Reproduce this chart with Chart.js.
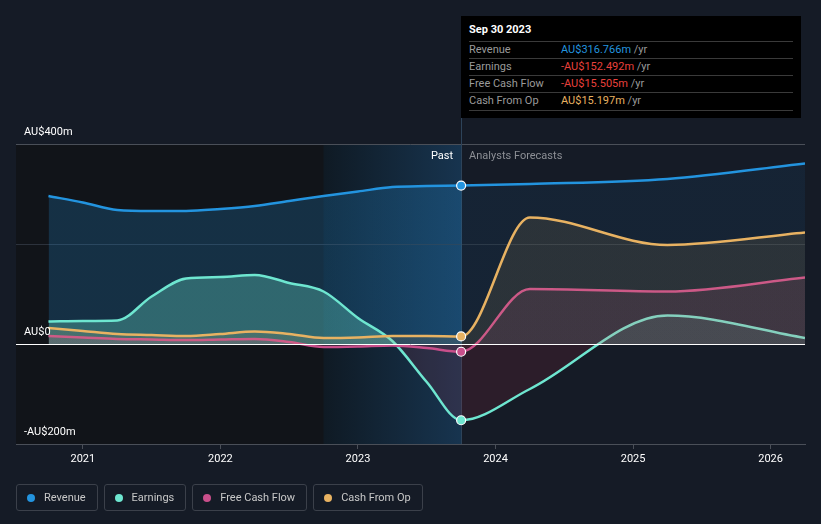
<!DOCTYPE html>
<html>
<head>
<meta charset="utf-8">
<script src="https://cdn.jsdelivr.net/npm/chart.js@4"></script>
<style>
  html, body { margin: 0; padding: 0; background: #151b26; }
  body { width: 821px; height: 524px; position: relative; overflow: hidden; font-family: Roboto, "Noto Sans", sans-serif; }
  #wrap { position: absolute; left: 0; top: 0; width: 821px; height: 524px; }
  #tip { position: absolute; left: 461px; top: 16px; width: 340px; height: 102px; background: #000; font-size: 11px; }
  #tip .title { position: absolute; left: 8px; top: 7px; color: #fff; font-weight: bold; font-size: 11px; }
  #tip .row { position: absolute; left: 8px; width: 324px; height: 17px; border-top: 1px solid #3a3a3a; line-height: 16px; }
  #tip .row .lab { position: absolute; left: 0; color: #9a9a9a; }
  #tip .row .val { position: absolute; left: 92px; }
  #tip .row .val span { color: #9a9a9a; }
  #legend { position: absolute; left: 16px; top: 484px; display: flex; gap: 6px; }
  .item { border: 1px solid #3b404a; border-radius: 3px; display: flex; align-items: center; padding: 0 11px 0 10px; color: #c8c8c8; font-size: 11px; box-sizing: border-box; height: 27px; }
  .item i { width: 8px; height: 8px; border-radius: 50%; display: inline-block; margin-right: 9px; }
</style>
</head>
<body>
<div id="wrap"><canvas id="c" width="821" height="524"></canvas></div>
<div id="tip">
  <div class="title">Sep 30 2023</div>
  <div class="row" style="top:25px"><span class="lab">Revenue</span><span class="val" style="color:#2394df">AU$316.766m <span>/yr</span></span></div>
  <div class="row" style="top:42px"><span class="lab">Earnings</span><span class="val" style="color:#e8413c">-AU$152.492m <span>/yr</span></span></div>
  <div class="row" style="top:59px"><span class="lab">Free Cash Flow</span><span class="val" style="color:#e8413c">-AU$15.505m <span>/yr</span></span></div>
  <div class="row" style="top:76px; border-bottom:1px solid #3a3a3a"><span class="lab">Cash From Op</span><span class="val" style="color:#e8b262">AU$15.197m <span>/yr</span></span></div>
</div>
<div id="legend"></div>
<script>
const periods = [2020.75, 2021.0, 2021.25, 2021.5, 2021.75, 2022.0, 2022.25, 2022.5, 2022.75, 2023.0, 2023.25, 2023.5, 2023.75, 2024.25, 2025.25, 2026.25];
const revenue = [296, 283, 268, 266, 266, 270, 276, 286, 296, 305, 314, 316, 316.8, 320, 330, 361];
const earnings = [45, 46, 47, 95, 131, 134, 138, 122, 105, 52, 6, -76, -152.5, -90, 57, 12];
const freeCashFlow = [16, 13, 10, 9, 8, 9, 10, 4, -6, -5, -3, -8, -15.5, 110, 105, 133];
const cashFromOp = [32, 26, 20, 18, 16, 20, 25, 20, 12, 13, 16, 16, 15.2, 253, 198, 223];
const yearTicks = [2021, 2022, 2023, 2024, 2025, 2026];
const yLabels = [[400, "AU$400m"], [0, "AU$0"], [-200, "-AU$200m"]];
const seriesNames = ["Revenue", "Earnings", "Free Cash Flow", "Cash From Op"];
const seriesColors = ["#2394df", "#6ee6d0", "#c94f8b", "#e8b262"];
const pastEnd = 2023.75;
const bandStart = 2022.75;

const legend = document.getElementById("legend");
seriesNames.forEach((n, i) => {
  const d = document.createElement("div");
  d.className = "item";
  d.innerHTML = `<i style="background:${seriesColors[i]}"></i>${n}`;
  legend.appendChild(d);
});

function rgba(hex, a) {
  const n = parseInt(hex.slice(1), 16);
  return `rgba(${n >> 16},${(n >> 8) & 255},${n & 255},${a})`;
}

// fill that is stronger in the past and fainter in the forecast
function splitFill(color, pastA, futA) {
  return (ctx) => {
    const chart = ctx.chart;
    const area = chart.chartArea;
    if (!area) return rgba(color, futA);
    const xs = chart.scales.x;
    const px = xs.getPixelForValue(pastEnd);
    const g = chart.ctx.createLinearGradient(area.left, 0, area.right, 0);
    const t = Math.min(1, Math.max(0, (px - area.left) / (area.right - area.left)));
    g.addColorStop(0, rgba(color, pastA));
    g.addColorStop(t, rgba(color, pastA));
    g.addColorStop(Math.min(1, t + 0.001), rgba(color, futA));
    g.addColorStop(1, rgba(color, futA));
    return g;
  };
}

const markIdx = periods.indexOf(pastEnd);
function makeSet(label, data, color, fill, order) {
  return {
    label,
    order,
    data: periods.map((p, i) => ({ x: p, y: data[i] })),
    borderColor: color,
    borderWidth: 2.5,
    cubicInterpolationMode: "monotone",
    fill,
    pointRadius: 0,
    pointHoverRadius: 0,
  };
}

const backdrop = {
  id: "backdrop",
  beforeDatasetsDraw(chart) {
    const { ctx, chartArea: a, scales } = chart;
    const xp = scales.x.getPixelForValue(pastEnd);
    const xb = scales.x.getPixelForValue(bandStart);
    ctx.save();
    ctx.fillStyle = "#111419";
    ctx.fillRect(a.left, a.top, xp - a.left, a.bottom - a.top);
    const g = ctx.createLinearGradient(xb, 0, xp, 0);
    g.addColorStop(0, "#0f1a24");
    g.addColorStop(1, "#17344f");
    ctx.fillStyle = g;
    ctx.fillRect(xb, a.top, xp - xb, a.bottom - a.top);
    // grid lines
    [400, 200].forEach((v) => {
      const y = Math.round(scales.y.getPixelForValue(v)) + 0.5;
      ctx.strokeStyle = v === 400 ? "#4a4f58" : "#2c323c";
      ctx.lineWidth = 1;
      ctx.beginPath(); ctx.moveTo(a.left, y); ctx.lineTo(a.right, y); ctx.stroke();
    });
    ctx.strokeStyle = "#2d4359";
    ctx.beginPath(); ctx.moveTo(Math.round(xp) + 0.5, 118); ctx.lineTo(Math.round(xp) + 0.5, a.bottom); ctx.stroke();
    ctx.restore();
  },
  afterDatasetsDraw(chart) {
    const { ctx, chartArea: a, scales } = chart;
    ctx.save();
    const y0 = Math.round(scales.y.getPixelForValue(0)) + 0.5;
    ctx.strokeStyle = "#ffffff";
    ctx.lineWidth = 1;
    ctx.beginPath(); ctx.moveTo(a.left, y0); ctx.lineTo(a.right, y0); ctx.stroke();
    // end markers at the latest reported period
    chart.data.datasets.forEach((ds, i) => {
      const pt = chart.getDatasetMeta(i).data[markIdx];
      ctx.beginPath();
      ctx.arc(pt.x, pt.y, 4.5, 0, Math.PI * 2);
      ctx.fillStyle = ds.borderColor;
      ctx.fill();
      ctx.strokeStyle = "#fff";
      ctx.lineWidth = 1.2;
      ctx.stroke();
    });
    ctx.font = "11px Roboto";
    ctx.textBaseline = "middle";
    ctx.fillStyle = "#ffffff";
    yLabels.forEach(([v, t]) => {
      ctx.textAlign = "left";
      ctx.fillText(t, 24, scales.y.getPixelForValue(v) - 12);
    });
    const xp = scales.x.getPixelForValue(pastEnd);
    ctx.textAlign = "right";
    ctx.fillText("Past", xp - 8, 156);
    ctx.fillStyle = "#8c8f95";
    ctx.textAlign = "left";
    ctx.fillText("Analysts Forecasts", xp + 8, 156);
    ctx.restore();
  },
};

new Chart(document.getElementById("c"), {
  type: "line",
  data: {
    datasets: [
      makeSet("Revenue", revenue, seriesColors[0], { target: "origin", above: splitFill(seriesColors[0], 0.22, 0.08) }, 4),
      makeSet("Earnings", earnings, seriesColors[1], { target: "origin", above: splitFill(seriesColors[1], 0.3, 0.12), below: "rgba(200,50,70,0.13)" }, 3),
      makeSet("Free Cash Flow", freeCashFlow, seriesColors[2], { target: "origin", above: splitFill(seriesColors[2], 0.15, 0.12), below: "rgba(200,50,70,0.1)" }, 2),
      makeSet("Cash From Op", cashFromOp, seriesColors[3], { target: "origin", above: splitFill(seriesColors[3], 0.12, 0.1) }, 1),
    ],
  },
  options: {
    responsive: false,
    animation: false,
    layout: { padding: { left: 16, right: 16, top: 144, bottom: 0 } },
    scales: {
      x: {
        type: "linear",
        min: 2020.514,
        max: 2026.25,
        afterBuildTicks: (s) => { s.ticks = yearTicks.map((v) => ({ value: v })); },
        afterFit: (s) => { s.height = 80; },
        ticks: { color: "#ffffff", font: { family: "Roboto", size: 11 }, padding: 4, callback: (v) => String(v), maxRotation: 0 },
        grid: { drawOnChartArea: false, drawTicks: true, tickLength: 5, color: "#4a4f58" },
        border: { color: "#4a4f58" },
      },
      y: {
        min: -200,
        max: 400,
        afterFit: (s) => { s.width = 0; },
        ticks: { display: false },
        grid: { display: false },
        border: { display: false },
      },
    },
    plugins: { legend: { display: false }, tooltip: { enabled: false } },
  },
  plugins: [backdrop],
});
</script>
</body>
</html>
